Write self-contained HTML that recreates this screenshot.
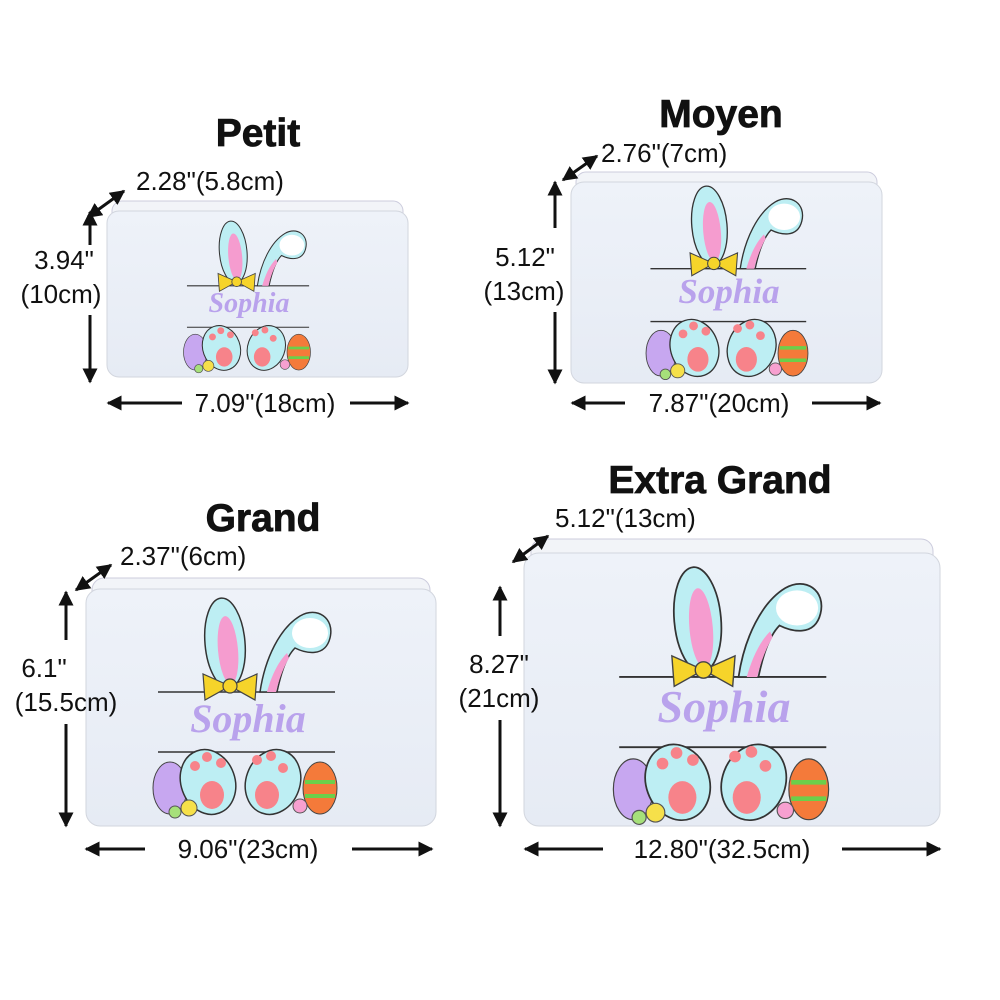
<!DOCTYPE html>
<html><head><meta charset="utf-8"><style>
html,body{margin:0;padding:0;background:#fff}
svg{display:block}
text{font-family:"Liberation Sans",Arial,sans-serif}
.t{font-weight:bold;font-size:39px;text-anchor:middle;fill:#111;stroke:#111;stroke-width:0.8}
.l{font-size:26px;fill:#111}
.s{font-family:"Liberation Serif",serif;font-style:italic;font-weight:bold;fill:#b9a2ec;text-anchor:middle}
</style></head><body>
<svg width="1000" height="1000" viewBox="0 0 1000 1000" xmlns="http://www.w3.org/2000/svg">
<defs>
<marker id="a" viewBox="0 0 10 10" refX="9" refY="5" markerWidth="5" markerHeight="5" orient="auto-start-reverse"><path d="M0,0 L10,5 L0,10 z" fill="#111"/></marker>
<linearGradient id="bx" x1="0" y1="0" x2="0" y2="1"><stop offset="0" stop-color="#eef2f9"/><stop offset="1" stop-color="#e6ebf4"/></linearGradient>
<g id="art">
 <line x1="-87" y1="94" x2="90" y2="94" stroke="#333" stroke-width="1.6"/>
 <line x1="-87" y1="154" x2="90" y2="154" stroke="#333" stroke-width="1.6"/>
 <ellipse cx="-20" cy="45" rx="20" ry="45" fill="#bdeef3" stroke="#333" stroke-width="1.5" transform="rotate(-5 -20 45)"/>
 <ellipse cx="-17" cy="52" rx="10" ry="34" fill="#f59ccf" transform="rotate(-5 -17 52)"/>
 <path d="M15,94 C20,60 35,30 55,18 C72,8 90,20 85,40 C80,60 60,55 50,50 C40,60 35,80 32,94 Z" fill="#bdeef3" stroke="#333" stroke-width="1.5"/>
 <ellipse cx="65" cy="35" rx="18" ry="15" fill="#fff"/>
 <path d="M22,94 C26,80 32,65 42,55 L44,60 C37,72 33,85 31,94 Z" fill="#f59ccf"/>
 <path d="M-15,88 L-42,76 L-40,102 Z M-15,88 L12,76 L10,102 Z" fill="#f6d42a" stroke="#444" stroke-width="1.2"/>
 <circle cx="-15" cy="88" r="7" fill="#f6d42a" stroke="#444" stroke-width="1.2"/>
 <ellipse cx="-75" cy="190" rx="17" ry="26" fill="#c7a7f0" stroke="#444" stroke-width="1"/>
 <ellipse cx="75" cy="190" rx="17" ry="26" fill="#f47a3a" stroke="#444" stroke-width="1"/>
 <path d="M60,184 L90,184 M60,198 L90,198" stroke="#6ccf4a" stroke-width="4"/>
 <ellipse cx="-37" cy="184" rx="27" ry="33" fill="#bdeef3" stroke="#333" stroke-width="1.5" transform="rotate(-20 -37 184)"/>
 <ellipse cx="28" cy="184" rx="27" ry="33" fill="#bdeef3" stroke="#333" stroke-width="1.5" transform="rotate(20 28 184)"/>
 <ellipse cx="-33" cy="197" rx="12" ry="14" fill="#f7838a"/>
 <ellipse cx="22" cy="197" rx="12" ry="14" fill="#f7838a"/>
 <circle cx="-50" cy="168" r="5" fill="#f7838a"/><circle cx="-38" cy="159" r="5" fill="#f7838a"/><circle cx="-24" cy="165" r="5" fill="#f7838a"/>
 <circle cx="12" cy="162" r="5" fill="#f7838a"/><circle cx="26" cy="158" r="5" fill="#f7838a"/><circle cx="38" cy="170" r="5" fill="#f7838a"/>
 <circle cx="-56" cy="210" r="8" fill="#f6e04a" stroke="#555" stroke-width="1"/>
 <circle cx="-70" cy="214" r="6" fill="#a6e07a" stroke="#555" stroke-width="1"/>
 <circle cx="55" cy="208" r="7" fill="#f7a0d0" stroke="#555" stroke-width="1"/>
</g>
</defs>

<!-- Petit -->
<text class="t" x="258" y="146">Petit</text>
<rect x="112" y="201" width="291" height="30" rx="10" fill="#f2f4f8" stroke="#ccd" stroke-width="1"/>
<rect x="107" y="211" width="301" height="166" rx="12" fill="url(#bx)" stroke="#d2d6de"/>
<use href="#art" transform="translate(247 221) scale(0.69)"/>
<text class="s" x="249" y="312" font-size="28">Sophia</text>
<line x1="88" y1="217" x2="124" y2="191" stroke="#111" stroke-width="3" marker-start="url(#a)" marker-end="url(#a)"/>
<text class="l" x="136" y="190">2.28"(5.8cm)</text>
<line x1="90" y1="245" x2="90" y2="212" stroke="#111" stroke-width="3" marker-end="url(#a)"/>
<line x1="90" y1="315" x2="90" y2="382" stroke="#111" stroke-width="3" marker-end="url(#a)"/>
<text class="l" x="64" y="269" text-anchor="middle">3.94"</text>
<text class="l" x="61" y="303" text-anchor="middle">(10cm)</text>
<line x1="182" y1="403" x2="108" y2="403" stroke="#111" stroke-width="3" marker-end="url(#a)"/>
<line x1="350" y1="403" x2="408" y2="403" stroke="#111" stroke-width="3" marker-end="url(#a)"/>
<text class="l" x="265" y="412" text-anchor="middle">7.09"(18cm)</text>

<!-- Moyen -->
<text class="t" x="721" y="127">Moyen</text>
<rect x="576" y="172" width="301" height="30" rx="10" fill="#f2f4f8" stroke="#ccd"/>
<rect x="571" y="182" width="311" height="201" rx="13" fill="url(#bx)" stroke="#d2d6de"/>
<use href="#art" transform="translate(727 186) scale(0.88)"/>
<text class="s" x="729" y="303" font-size="35">Sophia</text>
<line x1="563" y1="180" x2="597" y2="156" stroke="#111" stroke-width="3" marker-start="url(#a)" marker-end="url(#a)"/>
<text class="l" x="601" y="162">2.76"(7cm)</text>
<line x1="555" y1="228" x2="555" y2="182" stroke="#111" stroke-width="3" marker-end="url(#a)"/>
<line x1="555" y1="312" x2="555" y2="383" stroke="#111" stroke-width="3" marker-end="url(#a)"/>
<text class="l" x="525" y="266" text-anchor="middle">5.12"</text>
<text class="l" x="524" y="300" text-anchor="middle">(13cm)</text>
<line x1="625" y1="403" x2="572" y2="403" stroke="#111" stroke-width="3" marker-end="url(#a)"/>
<line x1="812" y1="403" x2="880" y2="403" stroke="#111" stroke-width="3" marker-end="url(#a)"/>
<text class="l" x="719" y="412" text-anchor="middle">7.87"(20cm)</text>

<!-- Grand -->
<text class="t" x="263" y="531">Grand</text>
<rect x="92" y="578" width="338" height="34" rx="12" fill="#f2f4f8" stroke="#ccd"/>
<rect x="86" y="589" width="350" height="237" rx="14" fill="url(#bx)" stroke="#d2d6de"/>
<use href="#art" transform="translate(245 598)"/>
<text class="s" x="248" y="732" font-size="40">Sophia</text>
<line x1="76" y1="590" x2="111" y2="565" stroke="#111" stroke-width="3" marker-start="url(#a)" marker-end="url(#a)"/>
<text class="l" x="120" y="565">2.37"(6cm)</text>
<line x1="66" y1="640" x2="66" y2="592" stroke="#111" stroke-width="3" marker-end="url(#a)"/>
<line x1="66" y1="724" x2="66" y2="826" stroke="#111" stroke-width="3" marker-end="url(#a)"/>
<text class="l" x="44" y="677" text-anchor="middle">6.1"</text>
<text class="l" x="66" y="711" text-anchor="middle">(15.5cm)</text>
<line x1="145" y1="849" x2="86" y2="849" stroke="#111" stroke-width="3" marker-end="url(#a)"/>
<line x1="352" y1="849" x2="432" y2="849" stroke="#111" stroke-width="3" marker-end="url(#a)"/>
<text class="l" x="248" y="858" text-anchor="middle">9.06"(23cm)</text>

<!-- Extra Grand -->
<text class="t" x="720" y="493">Extra Grand</text>
<rect x="531" y="539" width="402" height="36" rx="12" fill="#f2f4f8" stroke="#ccd"/>
<rect x="524" y="553" width="416" height="273" rx="15" fill="url(#bx)" stroke="#d2d6de"/>
<use href="#art" transform="translate(721 567) scale(1.17)"/>
<text class="s" x="724" y="722" font-size="46">Sophia</text>
<line x1="513" y1="562" x2="548" y2="536" stroke="#111" stroke-width="3" marker-start="url(#a)" marker-end="url(#a)"/>
<text class="l" x="555" y="527">5.12"(13cm)</text>
<line x1="500" y1="636" x2="500" y2="587" stroke="#111" stroke-width="3" marker-end="url(#a)"/>
<line x1="500" y1="720" x2="500" y2="826" stroke="#111" stroke-width="3" marker-end="url(#a)"/>
<text class="l" x="499" y="673" text-anchor="middle">8.27"</text>
<text class="l" x="499" y="707" text-anchor="middle">(21cm)</text>
<line x1="603" y1="849" x2="525" y2="849" stroke="#111" stroke-width="3" marker-end="url(#a)"/>
<line x1="842" y1="849" x2="940" y2="849" stroke="#111" stroke-width="3" marker-end="url(#a)"/>
<text class="l" x="722" y="858" text-anchor="middle">12.80"(32.5cm)</text>
</svg>
</body></html>
